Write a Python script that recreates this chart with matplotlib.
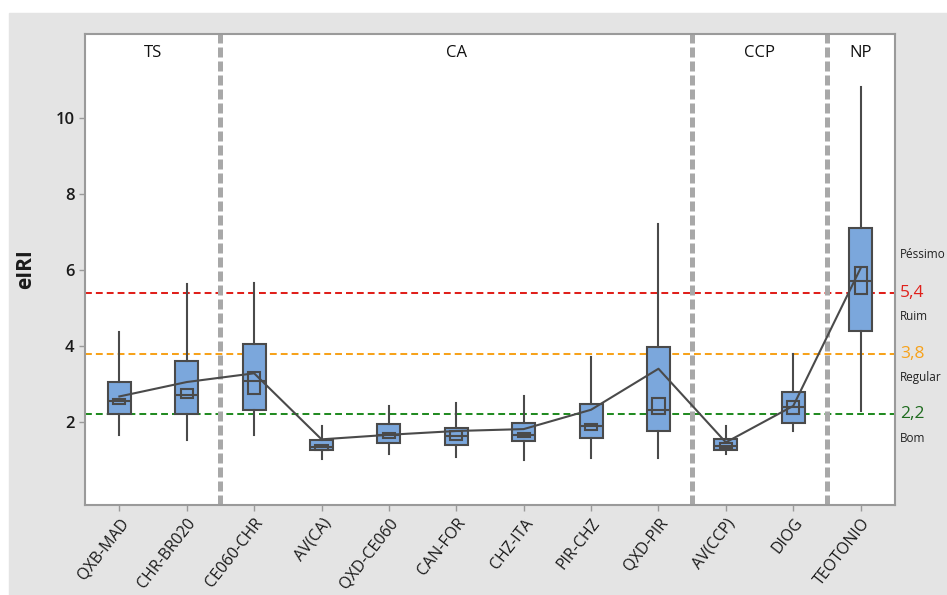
import matplotlib.pyplot as plt
from matplotlib.patches import Rectangle

plt.rcParams['font.family'] = ['Open Sans', 'DejaVu Sans']

# dados (eIRI por trecho)
labels = ['QXB-MAD', 'CHR-BR020', 'CE060-CHR', 'AV(CA)', 'QXD-CE060', 'CAN-FOR',
          'CHZ-ITA', 'PIR-CHZ', 'QXD-PIR', 'AV(CCP)', 'DIOG', 'TEOTONIO']
whislo = [1.66, 1.53, 1.66, 1.03, 1.15, 1.07, 1.00, 1.04, 1.04, 1.16, 1.75, 2.29]
q1 = [2.21, 2.21, 2.32, 1.25, 1.44, 1.40, 1.49, 1.57, 1.76, 1.26, 1.97, 4.40]
med = [2.55, 2.70, 3.07, 1.33, 1.65, 1.62, 1.66, 1.88, 2.32, 1.37, 2.39, 5.72]
q3 = [3.05, 3.61, 4.04, 1.53, 1.94, 1.85, 1.96, 2.47, 3.97, 1.54, 2.78, 7.12]
whishi = [4.38, 5.62, 5.67, 1.89, 2.42, 2.51, 2.68, 3.70, 7.22, 1.90, 3.78, 10.82]
ci_lo = [2.48, 2.64, 2.73, 1.27, 1.57, 1.51, 1.60, 1.79, 2.20, 1.32, 2.20, 5.36]
ci_hi = [2.61, 2.87, 3.31, 1.39, 1.72, 1.76, 1.72, 1.95, 2.63, 1.44, 2.55, 6.09]
medias = [2.67, 3.05, 3.28, 1.54, 1.66, 1.76, 1.81, 2.32, 3.40, 1.46, 2.42, 6.05]

grupos = ['TS', 'CA', 'CCP', 'NP']
grupos_x = [1.5, 6, 10.5, 12]
separadores = [2.5, 9.5, 11.5]

limites = [5.4, 3.8, 2.2]
limites_txt = ['5,4', '3,8', '2,2']
limites_cor = ['#E0201B', '#F7A21B', '#228B22']
limites_txt_cor = ['#E0201B', '#F7A21B', '#1E6B1E']
classes = ['Péssimo', 'Ruim', 'Regular', 'Bom']
classes_y = [6.40, 4.77, 3.18, 1.56]

cinza = '#4A4A4A'
x = list(range(1, len(labels) + 1))

fig = plt.figure(figsize=(9.47, 5.95), dpi=100)
fig.patches.append(Rectangle((9 / 947, 0), 1, 1 - 13 / 595, transform=fig.transFigure,
                             color='#E4E4E4', zorder=-10))
ax = fig.add_axes([85 / 947, 1 - 505 / 595, 810 / 947, 471 / 595])
ax.set_facecolor('white')

stats = []
for i in range(len(labels)):
    stats.append(dict(med=med[i], q1=q1[i], q3=q3[i], whislo=whislo[i], whishi=whishi[i]))

for y, c in zip(limites, limites_cor):
    ax.axhline(y, color=c, lw=1.45, dashes=(3.4, 2.0), zorder=1)
for s in separadores:
    ax.axvline(s, color='#A8A8A8', lw=3.6, dashes=(2.0, 0.8), zorder=2)

ax.bxp(stats, positions=x, widths=0.34, patch_artist=True, showcaps=False,
       showfliers=False, manage_ticks=False,
       boxprops=dict(facecolor='#7BA7DC', edgecolor=cinza, lw=1.5),
       medianprops=dict(color=cinza, lw=1.5),
       whiskerprops=dict(color=cinza, lw=1.5),
       zorder=3)

for i in range(len(labels)):
    ax.add_patch(Rectangle((x[i] - 0.09, ci_lo[i]), 0.18, ci_hi[i] - ci_lo[i],
                           fill=False, ec=cinza, lw=1.5, zorder=4))

ax.plot(x, medias, color=cinza, lw=1.5, zorder=5)

for g, gx in zip(grupos, grupos_x):
    ax.text(gx, 11.72, g, ha='center', va='center', fontsize=12, color='#111111')

tr = ax.get_yaxis_transform()
for y, t, c in zip(limites, limites_txt, limites_txt_cor):
    ax.text(1.006, y, t, transform=tr, ha='left', va='center', fontsize=12.5, color=c,
            clip_on=False)
for y, t in zip(classes_y, classes):
    ax.text(1.006, y, t, transform=tr, ha='left', va='center', fontsize=8.5,
            color='#222222', clip_on=False)

ax.set_xlim(0.49, 12.51)
ax.set_ylim(-0.19, 12.22)
ax.set_yticks([2, 4, 6, 8, 10])
ax.set_xticks(x)
ax.set_xticklabels(labels, rotation=52, ha='right', rotation_mode='anchor',
                   fontsize=11.5, color='#1A1A1A')
for lb in ax.get_yticklabels():
    lb.set_fontsize(12)
    lb.set_fontweight('semibold')
    lb.set_color('#1A1A1A')
ax.tick_params(colors='#9A9A9A', length=4, width=1)
ax.tick_params(labelcolor='#1A1A1A')
for sp in ax.spines.values():
    sp.set_color('#9A9A9A')
    sp.set_linewidth(1.5)
ax.set_ylabel('eIRI', fontsize=15, fontweight='bold', color='#1A1A1A', labelpad=14)

fig.savefig('out.png', dpi=100, facecolor='white')
